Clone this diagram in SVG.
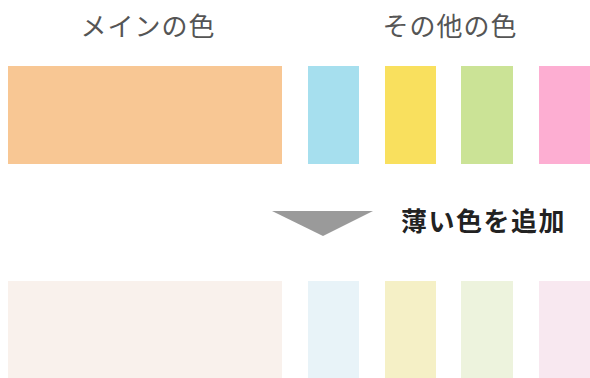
<svg xmlns="http://www.w3.org/2000/svg" width="590" height="378" viewBox="0 0 590 378">
<style>
.lbl{font-family:"Noto Sans CJK JP","Noto Sans CJK SC",sans-serif;font-size:26px;letter-spacing:1px;fill:#555;text-anchor:middle}
.add{font-family:"Noto Sans CJK JP","Noto Sans CJK SC",sans-serif;font-size:26px;letter-spacing:1.5px;font-weight:bold;fill:#222}
</style>
<rect width="590" height="378" fill="#fff"/>
<g id="label-main"><text class="lbl" x="148" y="36">メインの色</text></g>
<g id="label-other"><text class="lbl" x="450" y="36">その他の色</text></g>
<g id="main-color"><rect x="8" y="66" width="274" height="98" fill="#F8C794"/></g>
<g id="blue"><rect x="308" y="66" width="51" height="98" fill="#A6DFEE"/></g>
<g id="yellow"><rect x="385" y="66" width="51" height="98" fill="#F9E05E"/></g>
<g id="green"><rect x="461" y="66" width="52" height="98" fill="#CBE396"/></g>
<g id="pink"><rect x="539" y="66" width="51" height="98" fill="#FDAED2"/></g>
<g id="arrow"><polygon points="272,211 373,211 323,236" fill="#9a9a9a"/></g>
<g id="label-add"><text class="add" x="401" y="231">薄い色を追加</text></g>
<g id="main-light"><rect x="8" y="281" width="274" height="97" fill="#F9F1EC"/></g>
<g id="blue-light"><rect x="308" y="281" width="51" height="97" fill="#E8F3F8"/></g>
<g id="yellow-light"><rect x="385" y="281" width="51" height="97" fill="#F5F0C6"/></g>
<g id="green-light"><rect x="461" y="281" width="52" height="97" fill="#EDF3DD"/></g>
<g id="pink-light"><rect x="539" y="281" width="51" height="97" fill="#F8E8F0"/></g>
<g id="connectors"></g>
</svg>
